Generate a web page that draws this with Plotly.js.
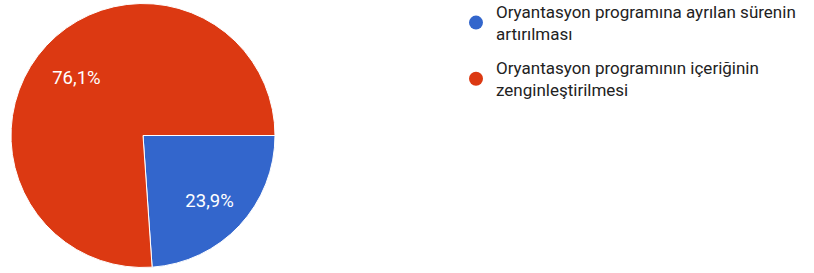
<!DOCTYPE html>
<html><head><meta charset="utf-8">
<script src="https://cdn.plot.ly/plotly-3.0.1.min.js"></script>
<style>html,body{margin:0;padding:0;background:#fff}#c{width:814px;height:273px}</style>
</head><body><div id="c"></div>
<script>
const categories = ["Oryantasyon programına ayrılan sürenin<br>artırılması", "Oryantasyon programının içeriğinin<br>zenginleştirilmesi"];
const values = [23.9, 76.1];
const labelsText = ["23,9%", "76,1%"];
const colors = ["#3366CC", "#DC3912"];

const W = 814, H = 273;
const nb = n => "\u00A0".repeat(n);
// label nudges via padding text (keeps labels as library-drawn pie text)
const padded = [nb(4) + "<br>" + nb(4) + labelsText[0], labelsText[1] + nb(8) + "<br>" + nb(1)];
const traces = [{
  type: 'pie', labels: categories, values: values, text: padded,
  textinfo: 'text', textposition: 'inside', insidetextorientation: 'horizontal',
  sort: false, direction: 'clockwise', rotation: 90,
  marker: {colors: colors, line: {color: '#fff', width: 1}},
  textfont: {color: '#fff', size: 18.5, family: 'Roboto, Arial, sans-serif'},
  domain: {x: [11/W, 275/W], y: [5/H, 270/H]},
  showlegend: false, hoverinfo: 'none'
}];
categories.forEach((c, i) => traces.push({
  type: 'scatter', mode: 'markers', x: [null], y: [null], name: c, legendgroup: 'g' + i,
  marker: {color: colors[i], size: 14, symbol: 'circle'}, showlegend: true, hoverinfo: 'none'
}));
Plotly.newPlot('c', traces, {
  width: W, height: H, margin: {l: 0, r: 0, t: 0, b: 0, autoexpand: false},
  paper_bgcolor: '#fff', plot_bgcolor: '#fff',
  xaxis: {visible: false}, yaxis: {visible: false},
  legend: {x: 456/W, y: 1 + 6/H, xanchor: 'left', yanchor: 'top', itemwidth: 30,
    font: {size: 17, color: '#222', family: 'Roboto, Arial, sans-serif'}, tracegroupgap: 9},
  font: {family: 'Roboto, Arial, sans-serif'}
}, {staticPlot: true});
</script></body></html>
